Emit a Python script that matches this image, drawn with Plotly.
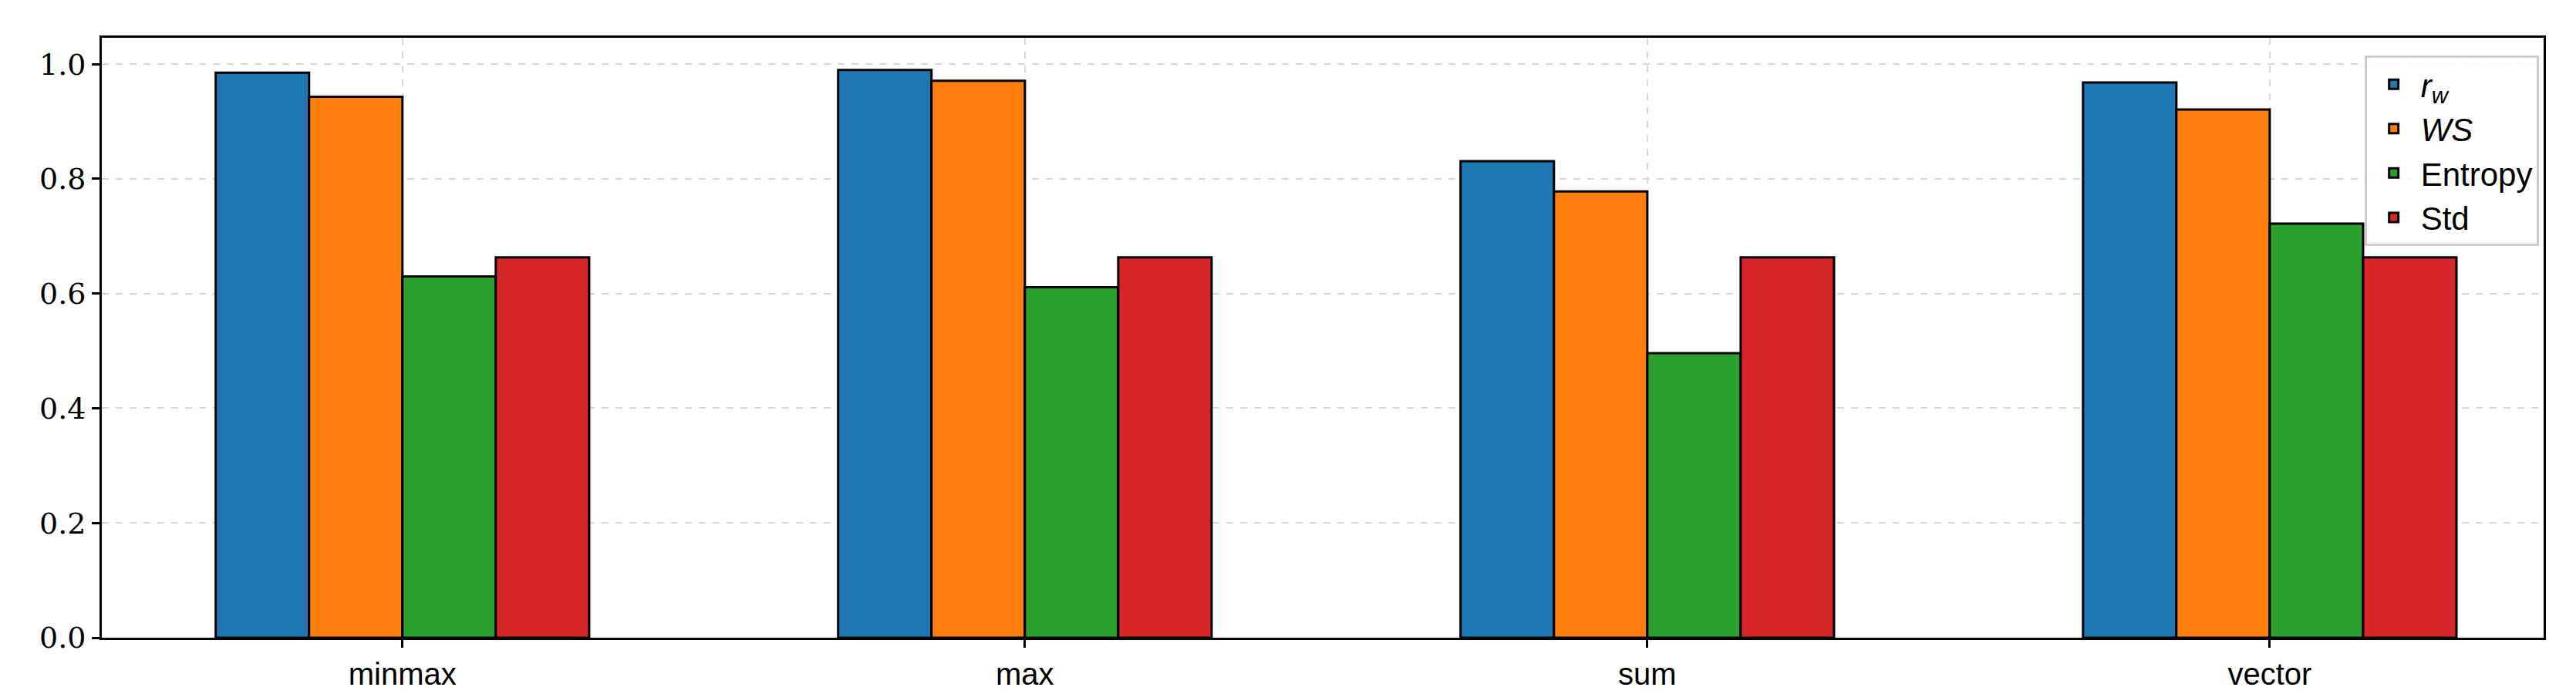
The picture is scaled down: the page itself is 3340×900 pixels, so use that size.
import plotly.graph_objects as go

categories = ['minmax', 'max', 'sum', 'vector']
rw = [0.985, 0.990, 0.831, 0.968]
ws = [0.943, 0.971, 0.778, 0.921]
entropy = [0.630, 0.611, 0.496, 0.722]
std = [0.663, 0.663, 0.663, 0.663]

series = [
    ('<i>r</i><sub><i>w</i></sub>', rw, '#1f77b4'),
    ('<i>WS</i>', ws, '#ff7f0e'),
    ('Entropy', entropy, '#2ca02c'),
    ('Std', std, '#d62728'),
]

fig = go.Figure()
for name, vals, col in series:
    fig.add_trace(go.Bar(
        x=categories, y=vals, name=name,
        marker=dict(color=col, line=dict(color='black', width=3)),
    ))

fig.update_layout(
    width=3340, height=900,
    barmode='group', bargap=0.4, bargroupgap=0,
    plot_bgcolor='white', paper_bgcolor='white',
    margin=dict(l=124, r=50, t=41, b=77),
    font=dict(family='Liberation Sans', size=40, color='black'),
    legend=dict(
        x=0.998, y=0.97, xanchor='right', yanchor='top',
        bgcolor='rgba(255,255,255,0.8)', bordercolor='#cccccc', borderwidth=3,
        font=dict(size=42, family='Liberation Sans'),
        itemwidth=60, tracegroupgap=10,
    ),
    showlegend=True,
)
fig.update_xaxes(
    range=[-0.483, 3.44], showline=True, linecolor='black', linewidth=3, mirror=True,
    ticks='outside', ticklen=10, tickwidth=3, tickcolor='black',
    showgrid=True, gridcolor='#d9d9d9', griddash='dash', gridwidth=2,
    tickfont=dict(family='Liberation Sans', size=40),
)
fig.update_yaxes(
    range=[0, 1.046], tickvals=[0, 0.2, 0.4, 0.6, 0.8, 1.0], tickformat='.1f',
    showline=True, linecolor='black', linewidth=3, mirror=True,
    ticks='outside', ticklen=10, tickwidth=3, tickcolor='black',
    showgrid=True, gridcolor='#d9d9d9', griddash='dash', gridwidth=2, zeroline=False,
    tickfont=dict(family='DejaVu Serif', size=38),
)

fig.write_html('out.html')
